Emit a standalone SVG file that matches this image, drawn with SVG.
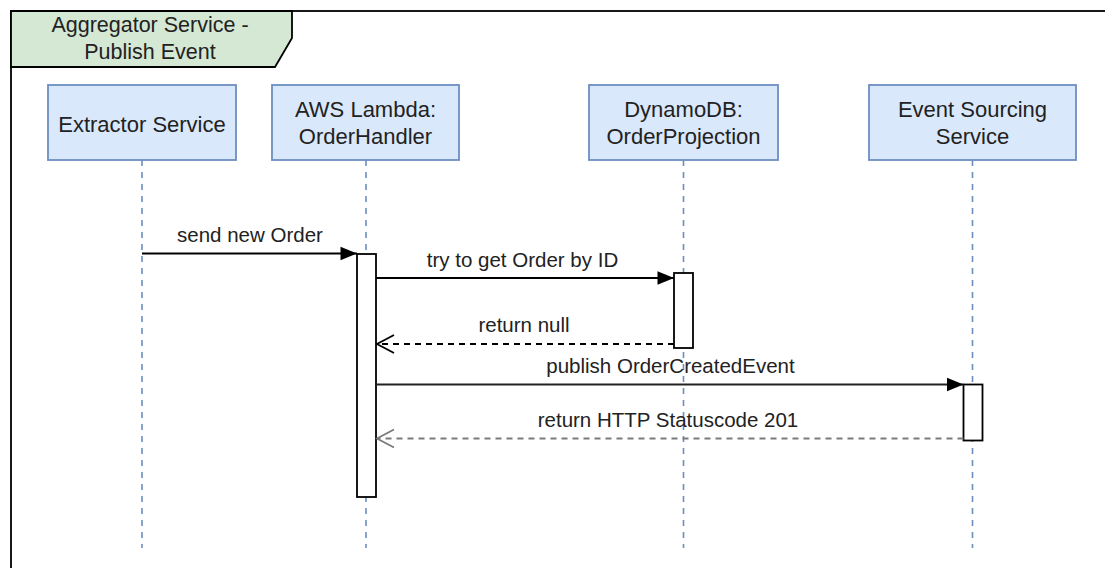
<svg xmlns="http://www.w3.org/2000/svg" width="1105" height="568" viewBox="0 0 1105 568">
  <defs>
    <style>
      .frame { fill: none; stroke: #000; stroke-width: 1.8; }
      .tab { fill: #d5e8d4; stroke: #000; stroke-width: 1.8; }
      .box { fill: #dae8fc; stroke: #6c8ebf; stroke-width: 1.8; }
      .life { stroke: #6c8ebf; stroke-width: 1.6; stroke-dasharray: 6 6; fill: none; }
      .act { fill: #fff; stroke: #000; stroke-width: 1.8; }
      .msg { stroke: #000; stroke-width: 1.8; fill: none; }
      .ret { stroke: #000; stroke-width: 1.8; fill: none; stroke-dasharray: 6 5; }
      .ret-gray { stroke: #7a7a7a; }
      text { font-family: "Liberation Sans", Arial, sans-serif; fill: #222; text-anchor: middle; }
      .node-t { font-size: 22px; }
      .lbl { font-size: 20.5px; }
    </style>
    <marker id="block" markerUnits="userSpaceOnUse" markerWidth="17" markerHeight="14" viewBox="0 0 17 14" refX="16.5" refY="7" orient="auto" overflow="visible">
      <path d="M0,0.3 L16.5,7 L0,13.7 z" fill="#000"/>
    </marker>
    <marker id="open" markerUnits="userSpaceOnUse" markerWidth="18" markerHeight="20" viewBox="0 0 18 20" refX="17" refY="10" orient="auto" overflow="visible">
      <path d="M0,1 L17,10 L0,19" fill="none" stroke="#000" stroke-width="1.8"/>
    </marker>
    <marker id="open-gray" markerUnits="userSpaceOnUse" markerWidth="18" markerHeight="20" viewBox="0 0 18 20" refX="17" refY="10" orient="auto" overflow="visible">
      <path d="M0,1 L17,10 L0,19" fill="none" stroke="#7a7a7a" stroke-width="1.8"/>
    </marker>
  </defs>

  <rect width="1105" height="568" fill="#fff"/>

  <!-- sequence frame with its title tab -->
  <g id="frame">
    <rect class="frame" x="11" y="11" width="1120" height="580"/>
    <path class="tab" d="M11,11 L292,11 L292,38 L275,67 L11,67 z"/>
    <text x="150" y="32" style="font-size:21.5px">Aggregator Service -</text>
    <text x="150" y="58.5" style="font-size:21.5px">Publish Event</text>
  </g>

  <!-- lifelines -->
  <g id="lifelines">
    <line class="life" x1="142" y1="160" x2="142" y2="548"/>
    <line class="life" x1="366" y1="160" x2="366" y2="548"/>
    <line class="life" x1="683.5" y1="160" x2="683.5" y2="548"/>
    <line class="life" x1="972.5" y1="160" x2="972.5" y2="548"/>
  </g>

  <!-- participants -->
  <g id="extractor-service">
    <rect class="box" x="48" y="85" width="188" height="75"/>
    <text class="node-t" x="142" y="131.5">Extractor Service</text>
  </g>
  <g id="order-handler">
    <rect class="box" x="272" y="85" width="187" height="75"/>
    <text class="node-t" x="365.5" y="116.5">AWS Lambda:</text>
    <text class="node-t" x="365.5" y="144">OrderHandler</text>
  </g>
  <g id="order-projection">
    <rect class="box" x="589" y="85" width="189" height="75"/>
    <text class="node-t" x="683.5" y="116.5">DynamoDB:</text>
    <text class="node-t" x="683.5" y="144">OrderProjection</text>
  </g>
  <g id="event-sourcing-service">
    <rect class="box" x="869" y="85" width="207" height="75"/>
    <text class="node-t" x="972.5" y="116.5">Event Sourcing</text>
    <text class="node-t" x="972.5" y="144">Service</text>
  </g>

  <!-- activations -->
  <g id="activations">
    <rect class="act" x="357" y="254" width="19" height="243"/>
    <rect class="act" x="674" y="273" width="19" height="75"/>
    <rect class="act" x="963.5" y="384.5" width="19" height="56"/>
  </g>

  <!-- messages -->
  <g id="connectors">
    <line class="msg" x1="142" y1="253.5" x2="357" y2="253.5" marker-end="url(#block)"/>
    <text class="lbl" x="250" y="241.7">send new Order</text>

    <line class="msg" x1="376" y1="278" x2="674" y2="278" marker-end="url(#block)"/>
    <text class="lbl" x="522.5" y="266.7">try to get Order by ID</text>

    <line class="ret" x1="674" y1="344" x2="377" y2="344" marker-end="url(#open)"/>
    <text class="lbl" x="524" y="331.7">return null</text>

    <line class="msg" x1="376" y1="384.5" x2="963.5" y2="384.5" marker-end="url(#block)" style="stroke:#222"/>
    <text class="lbl" x="670.5" y="373.3">publish OrderCreatedEvent</text>

    <line class="ret ret-gray" x1="963.5" y1="438.5" x2="377" y2="438.5" marker-end="url(#open-gray)"/>
    <text class="lbl" x="668" y="426.7">return HTTP Statuscode 201</text>
  </g>
</svg>
